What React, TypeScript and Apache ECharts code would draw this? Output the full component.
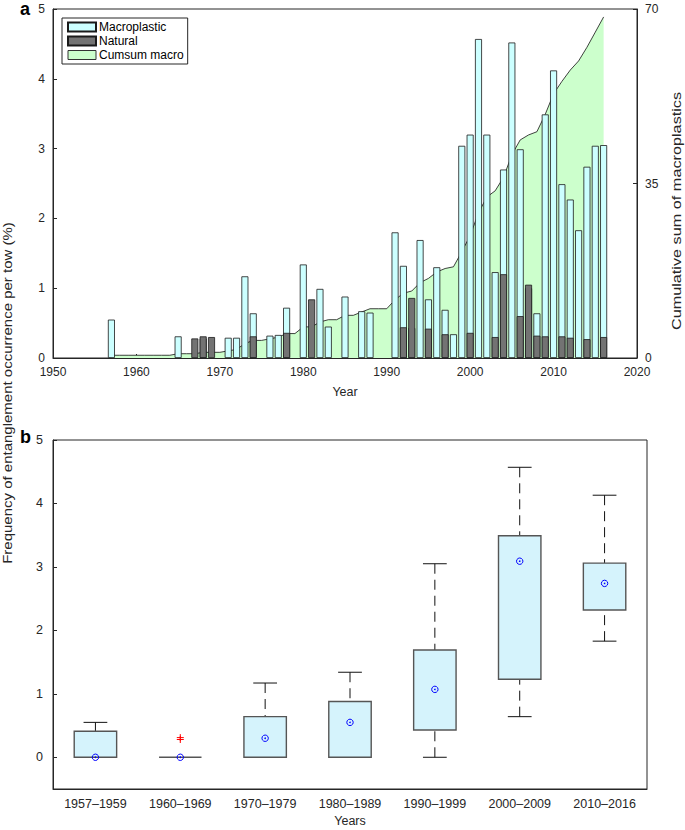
import React, { useEffect, useRef } from "react";
import * as echarts from "echarts";

// ---------- Panel a data ----------
const FIRST_YEAR = 1957;
// macroplastic entanglement frequency (%) per year, 1957..2016
const macroValues = [
  0.55, 0, 0, 0, 0, 0, 0, 0, 0.31, 0, // 1957-1966
  0, 0.28, 0, 0, 0.29, 0.29, 1.17, 0.64, 0, 0.32, // 1967-1976
  0.33, 0.72, 0, 1.34, 0, 0.99, 0.45, 0, 0.88, 0, // 1977-1986
  0.67, 0.65, 0, 0, 1.8, 1.32, 0.43, 1.69, 0.84, 1.3, // 1987-1996
  0.69, 0.34, 3.04, 3.2, 4.57, 3.2, 1.23, 2.7, 4.52, 2.99, // 1997-2006
  1.0, 0.64, 3.49, 4.12, 2.49, 2.27, 1.83, 2.74, 3.04, 3.05, // 2007-2016
];
const naturalYears = [1967, 1968, 1969, 1974, 1978, 1981, 1992, 1993, 1995, 1997, 2000, 2003, 2004, 2006, 2007, 2008, 2009, 2011, 2012, 2014, 2016];
const naturalValues = [0.28, 0.31, 0.3, 0.31, 0.36, 0.84, 0.44, 0.86, 0.42, 0.34, 0.36, 0.3, 1.2, 0.6, 1.05, 0.32, 0.31, 0.31, 0.29, 0.27, 0.3];

// ---------- Panel b data ----------
const periods = ["1957\u20131959", "1960\u20131969", "1970\u20131979", "1980\u20131989", "1990\u20131999", "2000\u20132009", "2010\u20132016"];
const whiskerLow = [0, 0, 0, 0, 0, 0.64, 1.83];
const boxQ1 = [0, 0, 0, 0, 0.43, 1.23, 2.32];
const boxMedian = [0, 0, 0.3, 0.55, 1.07, 3.09, 2.74];
const boxQ3 = [0.41, 0, 0.64, 0.88, 1.69, 3.49, 3.06];
const whiskerHigh = [0.55, 0, 1.17, 1.34, 3.05, 4.57, 4.13];
const outlierPeriod = [1, 1];
const outlierValues = [0.28, 0.31];

const FONT = "'Liberation Sans', Arial, Helvetica, sans-serif";
const TXT = "#262626";
const AX = "#262626";

export default function App() {
  const ref = useRef<HTMLDivElement>(null);
  useEffect(() => {
    if (!ref.current) return;
    const chart = echarts.init(ref.current, null, { renderer: "svg" });

    const years = macroValues.map((_, i) => FIRST_YEAR + i);
    const macroData = years.map((y, i) => [y, macroValues[i]]).filter((d) => d[1] > 0);
    const naturalData = naturalYears.map((y, i) => [y, naturalValues[i]]);
    let acc = 0;
    const cumsumData = years.map((y, i) => {
      acc += macroValues[i];
      return [y, +acc.toFixed(3)];
    });

    const boxData = periods.map((_, i) => [i, whiskerLow[i], boxQ1[i], boxMedian[i], boxQ3[i], whiskerHigh[i]]);
    const outData = outlierValues.map((v, i) => [outlierPeriod[i], v]);

    const axisLine = { show: true, onZero: false, lineStyle: { color: AX, width: 1 } };
    const axisLabel = { color: TXT, fontSize: 12, fontFamily: FONT };
    const plain = (v: number) => String(v);

    const option: any = {
      animation: false,
      backgroundColor: "#fff",
      grid: [
        { left: 53, top: 9, width: 584, height: 349, show: true, borderColor: AX, borderWidth: 1 },
        { left: 53, top: 440, width: 594, height: 349, show: true, borderColor: AX, borderWidth: 1 },
      ],
      legend: {
        orient: "vertical",
        left: 62,
        top: 18,
        backgroundColor: "#fff",
        borderColor: AX,
        borderWidth: 1,
        borderRadius: 0,
        padding: [3, 4, 3, 5],
        itemGap: 2,
        itemWidth: 28,
        itemHeight: 9,
        textStyle: { color: "#000", fontSize: 12, fontFamily: FONT, padding: [0, 0, 0, -2] },
        data: [
          { name: "Macroplastic", icon: "rect" },
          { name: "Natural", icon: "rect" },
          { name: "Cumsum macro", icon: "rect", itemStyle: { color: "#ccffcc", borderColor: "#333", borderWidth: 1 } },
        ],
      },
      xAxis: [
        {
          type: "value",
          gridIndex: 0,
          min: 1950,
          max: 2020,
          interval: 10,
          axisLine,
          axisTick: { show: true, inside: true, length: 4, lineStyle: { color: AX } },
          axisLabel: { ...axisLabel, margin: 8, formatter: plain },
          splitLine: { show: false },
        },
        {
          type: "category",
          gridIndex: 1,
          data: periods,
          axisLine,
          axisTick: { show: false },
          axisLabel: { ...axisLabel, fontSize: 12.5, margin: 8 },
          splitLine: { show: false },
        },
      ],
      yAxis: [
        {
          type: "value",
          gridIndex: 0,
          min: 0,
          max: 5,
          interval: 1,
          axisLine,
          axisTick: { show: true, inside: true, length: 4, lineStyle: { color: AX } },
          axisLabel: { ...axisLabel, margin: 8, formatter: plain },
          splitLine: { show: false },
        },
        {
          type: "value",
          gridIndex: 0,
          position: "right",
          min: 0,
          max: 70,
          interval: 35,
          axisLine,
          axisTick: { show: true, inside: true, length: 4, lineStyle: { color: AX } },
          axisLabel: { ...axisLabel, margin: 8, formatter: plain },
          splitLine: { show: false },
        },
        {
          type: "value",
          gridIndex: 1,
          min: -0.5,
          max: 5,
          axisLine,
          axisTick: { show: true, inside: true, length: 4, lineStyle: { color: AX }, customValues: [0, 1, 2, 3, 4, 5] },
          axisLabel: { ...axisLabel, fontSize: 12.5, margin: 10, customValues: [0, 1, 2, 3, 4, 5], formatter: plain },
          splitLine: { show: false },
        },
      ],
      series: [
        {
          name: "Cumsum macro",
          type: "line",
          xAxisIndex: 0,
          yAxisIndex: 1,
          data: cumsumData,
          symbol: "none",
          z: 1,
          itemStyle: { color: "#ccffcc" },
          lineStyle: { color: "#111", width: 0.8 },
          areaStyle: { color: "#ccffcc", opacity: 1 },
        },
        {
          name: "Macroplastic",
          type: "bar",
          xAxisIndex: 0,
          yAxisIndex: 0,
          data: macroData,
          barWidth: 7,
          barGap: "-100%",
          z: 2,
          itemStyle: { color: "#ccffff", borderColor: "#1a1a1a", borderWidth: 0.8 },
        },
        {
          name: "Natural",
          type: "bar",
          xAxisIndex: 0,
          yAxisIndex: 0,
          data: naturalData,
          barWidth: 7,
          barGap: "-100%",
          z: 3,
          itemStyle: { color: "#737373", borderColor: "#1a1a1a", borderWidth: 0.8 },
        },
        {
          type: "custom",
          xAxisIndex: 1,
          yAxisIndex: 2,
          data: boxData,
          z: 4,
          renderItem: (params: any, api: any) => {
            const idx = api.value(0);
            const low = api.value(1), q1 = api.value(2), med = api.value(3), q3 = api.value(4), high = api.value(5);
            const band = api.size([1, 0])[0];
            const bw = band * 0.5;
            const cw = band * 0.28;
            const pLow = api.coord([idx, low]);
            const pQ1 = api.coord([idx, q1]);
            const pMed = api.coord([idx, med]);
            const pQ3 = api.coord([idx, q3]);
            const pHigh = api.coord([idx, high]);
            const cx = pMed[0];
            const children: any[] = [];
            const dash = { stroke: "#111", lineWidth: 1, lineDash: [10, 6] };
            const solid = { stroke: "#111", lineWidth: 1 };
            if (high > q3) {
              children.push({ type: "line", shape: { x1: cx, y1: pHigh[1], x2: cx, y2: pQ3[1] }, style: dash });
              children.push({ type: "line", shape: { x1: cx - cw / 2, y1: pHigh[1], x2: cx + cw / 2, y2: pHigh[1] }, style: solid });
            }
            if (low < q1) {
              children.push({ type: "line", shape: { x1: cx, y1: pLow[1], x2: cx, y2: pQ1[1] }, style: dash });
              children.push({ type: "line", shape: { x1: cx - cw / 2, y1: pLow[1], x2: cx + cw / 2, y2: pLow[1] }, style: solid });
            }
            children.push({
              type: "rect",
              shape: { x: cx - bw / 2, y: pQ3[1], width: bw, height: Math.max(pQ1[1] - pQ3[1], 0) },
              style: { fill: "#d5f3fc", stroke: "#555", lineWidth: 1.4 },
            });
            children.push({ type: "circle", shape: { cx, cy: pMed[1], r: 3.2 }, style: { fill: "none", stroke: "#0000ff", lineWidth: 1 } });
            children.push({ type: "circle", shape: { cx, cy: pMed[1], r: 0.8 }, style: { fill: "#0000ff" } });
            return { type: "group", children };
          },
        },
        {
          type: "custom",
          xAxisIndex: 1,
          yAxisIndex: 2,
          data: outData,
          z: 5,
          renderItem: (params: any, api: any) => {
            const p = api.coord([api.value(0), api.value(1)]);
            const s = 3.5;
            const st = { stroke: "#ff0000", lineWidth: 1 };
            return {
              type: "group",
              children: [
                { type: "line", shape: { x1: p[0] - s, y1: p[1], x2: p[0] + s, y2: p[1] }, style: st },
                { type: "line", shape: { x1: p[0], y1: p[1] - s, x2: p[0], y2: p[1] + s }, style: st },
              ],
            };
          },
        },
      ],
      graphic: [
        { type: "text", left: 20, top: 0, style: { text: "a", fontSize: 18, fontWeight: "bold", fontFamily: FONT, fill: "#000" } },
        { type: "text", left: 20, top: 428, style: { text: "b", fontSize: 18, fontWeight: "bold", fontFamily: FONT, fill: "#000" } },
        { type: "text", x: 345, y: 392, style: { text: "Year", fontSize: 12.5, fontFamily: FONT, fill: TXT, align: "center", verticalAlign: "middle" } },
        { type: "text", x: 350, y: 821, style: { text: "Years", fontSize: 12.5, fontFamily: FONT, fill: TXT, align: "center", verticalAlign: "middle" } },
        {
          type: "text",
          x: 8,
          y: 393,
          rotation: Math.PI / 2,
          scaleX: 1.2,
          style: { text: "Frequency of entanglement occurrence per tow (%)", fontSize: 12.5, fontFamily: FONT, fill: TXT, align: "center", verticalAlign: "middle" },
        },
        {
          type: "text",
          x: 677,
          y: 211,
          rotation: Math.PI / 2,
          scaleX: 1.3,
          style: { text: "Cumulative sum of macroplastics", fontSize: 12.5, fontFamily: FONT, fill: TXT, align: "center", verticalAlign: "middle" },
        },
      ],
    };

    chart.setOption(option);
    return () => chart.dispose();
  }, []);

  return <div ref={ref} style={{ position: "absolute", left: 0, top: 0, width: 685, height: 830 }} />;
}
